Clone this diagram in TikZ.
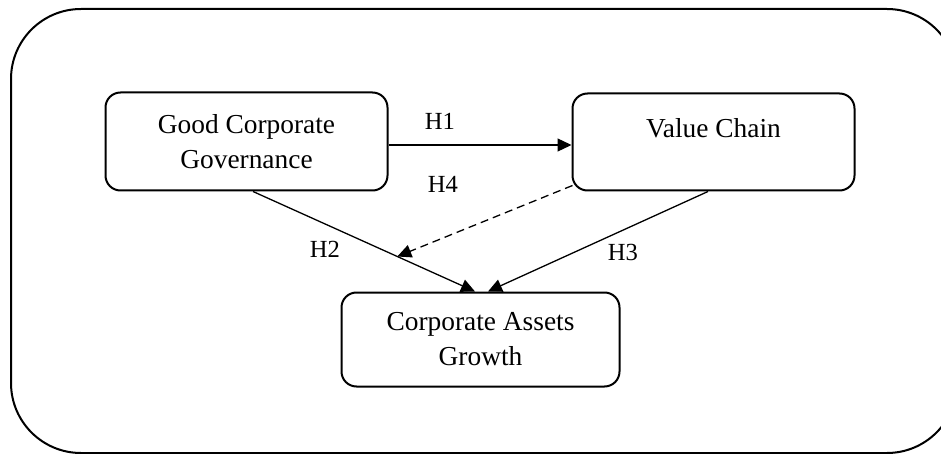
\documentclass[tikz,border=0pt]{standalone}
\usepackage{fontspec}
\setmainfont{Liberation Serif}
\usetikzlibrary{arrows.meta, calc, positioning}

\begin{document}
\begin{tikzpicture}[
  x=0.5pt, y=-0.5pt,
  box/.style={rectangle, draw=black, line width=1pt, rounded corners=7.5pt, align=center, font=\fontsize{13.7}{17.5}\selectfont},
  frame/.style={draw=black, line width=1pt, rounded corners=35pt},
  hyp/.style={anchor=base, inner sep=0pt, font=\fontsize{12.3}{14}\selectfont},
  arrow/.style={-{Triangle[length=7pt, width=6.5pt]}, line width=0.65pt},
  dasharrow/.style={arrow, dash pattern=on 4pt off 2.5pt}
]
\useasboundingbox (0,0) rectangle (941,454);
\clip (0,0) rectangle (941,454);

% --- Rahmen ---
\draw[frame] (11,9) rectangle (957,453);

% --- Konstrukte ---
\node[box, minimum width=141pt, minimum height=49pt] (gcg) at (246.5,141.5) {Good Corporate\\Governance};
\node[box, minimum width=141pt, minimum height=48.5pt] (vc) at (713.5,142) {\raisebox{2pt}[0pt][0pt]{Value Chain}};
\node[box, minimum width=139pt, minimum height=47pt] (cag) at (480.5,339.5) {Corporate Assets\\Growth};

% Hilfspunkte
\coordinate (h1start) at ($(gcg.east)+(0,3.5)$);
\coordinate (h2start) at ($(gcg.south)+(6.5,0)$);
\coordinate (h2end) at ($(cag.north)+(-5.5,0)$);
\coordinate (h3start) at ($(vc.south)+(-5.5,0)$);
\coordinate (h3end) at ($(cag.north)+(7.5,0)$);
\coordinate (h4start) at ($(vc.south west)+(1,-6)$);
\coordinate (h4end) at ($(h2start)!0.65!(h2end)$);

% Verbindungen
\draw[arrow] (h1start) -- (h1start -| vc.west);
\draw[arrow] (h2start) -- (h2end);
\draw[arrow] (h3start) -- (h3end);
\draw[dasharrow] (h4start) -- (h4end);

% Hypothesen
\node[hyp] (h1) at (440,130) {H1};
\node[hyp] (h4) at (443,193) {H4};
\node[hyp] (h2) at (325,257) {H2};
\node[hyp] (h3) at (623,260) {H3};
\end{tikzpicture}
\end{document}
